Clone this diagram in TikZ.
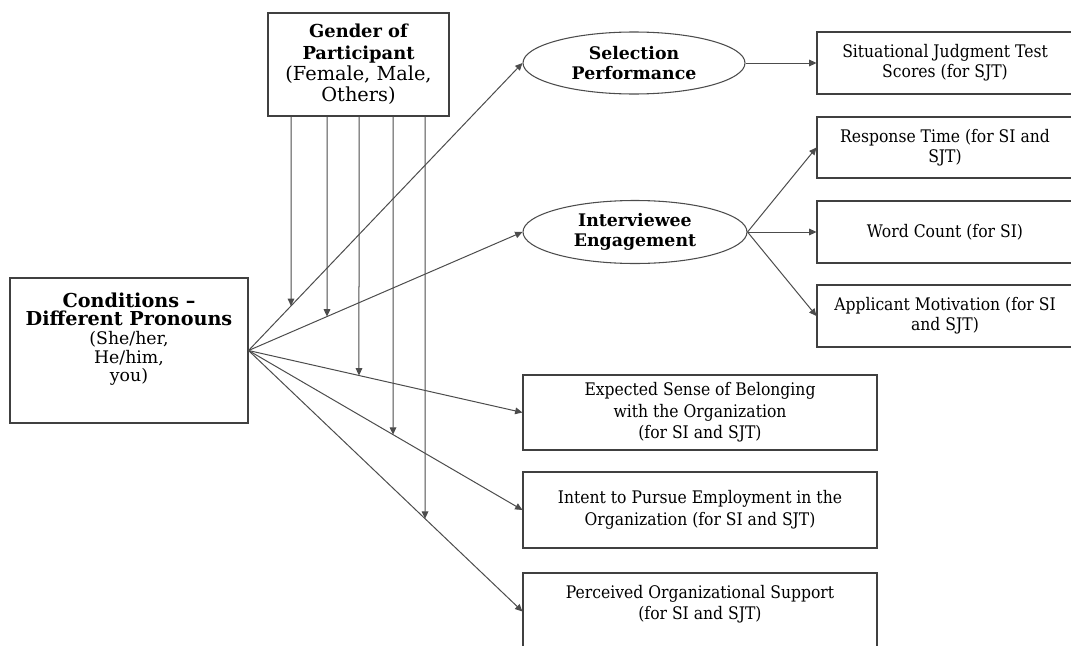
\documentclass[tikz,border=0pt]{standalone}
\usepackage{fontspec}
\setmainfont{DejaVu Serif}[FakeStretch=0.9, BoldFeatures={FakeStretch=1}]
\newfontfamily\widefont{DejaVu Serif}
\usetikzlibrary{arrows.meta,shapes.geometric}
\newdimen\pxu \pxu=0.75pt
\begin{document}
\begin{tikzpicture}[x=0.75pt,y=-0.75pt,
  font=\fontsize{13}{15}\selectfont,
  box/.style={draw=black!75, line width=0.8pt, align=center, inner sep=0pt},
  ell/.style={ellipse, draw=black!70, line width=0.8pt, align=center, inner sep=0pt, font=\fontsize{13}{15}\selectfont\bfseries},
  arr/.style={draw=black!70, line width=0.75pt, -{Triangle[length=5.5pt,width=5pt]}},
  ln/.style={draw=black!70, line width=0.75pt}]
\useasboundingbox (0,0) rectangle (1071,646);
\clip (0,0) rectangle (1071,646);

% left and top boxes
\node[box, minimum width={238*\pxu}, minimum height={145*\pxu}] (cond) at (129,350.5) {};
\node[align=center, inner sep=0pt, font=\widefont\fontsize{13}{14}\selectfont] (condtxt) at (129,339)
  {{\fontsize{14.4}{14}\selectfont\bfseries Conditions –}\\{\fontsize{14.4}{14}\selectfont\bfseries Different Pronouns}\\(She/her,\\He/him,\\you)};
\node[box, minimum width={181*\pxu}, minimum height={103*\pxu}, font=\widefont\fontsize{14.5}{16}\selectfont] (gender) at (358.5,64.5)
  {{\fontsize{13.4}{16}\selectfont\bfseries Gender of}\\{\fontsize{13.4}{16}\selectfont\bfseries Participant}\\(Female, Male,\\Others)};

% mediators
\node[ell, minimum width={222*\pxu}, minimum height={62*\pxu}] (sel) at (634,63) {Selection\\Performance};
\node[ell, minimum width={224*\pxu}, minimum height={63*\pxu}] (eng) at (635,232) {Interviewee\\Engagement};

% right boxes
\node[box, minimum width={256*\pxu}, minimum height={62*\pxu}] (sjt) at (945,63) {Situational Judgment Test\\Scores (for SJT)};
\node[box, minimum width={256*\pxu}, minimum height={61*\pxu}] (resp) at (945,147.5) {Response Time (for SI and\\SJT)};
\node[box, minimum width={256*\pxu}, minimum height={62*\pxu}] (word) at (945,232) {Word Count (for SI)};
\node[box, minimum width={256*\pxu}, minimum height={62*\pxu}] (app) at (945,316) {Applicant Motivation (for SI\\and SJT)};

% bottom boxes
\node[box, minimum width={354*\pxu}, minimum height={75*\pxu}, font=\fontsize{13}{16}\selectfont] (exp) at (700,412.5)
  {Expected Sense of Belonging\\with the Organization\\(for SI and SJT)};
\node[box, minimum width={354*\pxu}, minimum height={76*\pxu}, font=\fontsize{13}{16}\selectfont] (int) at (700,510)
  {Intent to Pursue Employment in the\\Organization (for SI and SJT)};
\node[box, minimum width={354*\pxu}, minimum height={77*\pxu}] (per) at (700,611.5) {};
\node[align=center, inner sep=0pt, font=\fontsize{13}{16}\selectfont] (pertxt) at (700,604)
  {Perceived Organizational Support\\(for SI and SJT)};

% main paths
\draw[arr] (cond.east) -- (sel.west);
\draw[arr] (cond.east) -- (eng.west);
\draw[arr] (cond.east) -- (exp.west);
\draw[arr] (cond.east) -- (int.west);
\draw[arr] (cond.east) -- (per.west);

\draw[arr] (sel.east) -- (sjt.west);
\draw[arr] (eng.east) -- (resp.west);
\draw[arr] (eng.east) -- (word.west);
\draw[arr] (eng.east) -- (app.west);

% moderation arrows from gender
\coordinate (g1) at (gender.south -| 291,0);
\coordinate (g2) at (gender.south -| 327,0);
\coordinate (g3) at (gender.south -| 359,0);
\coordinate (g4) at (gender.south -| 393,0);
\coordinate (g5) at (gender.south -| 425,0);
\coordinate (h1) at (291,640);
\coordinate (h2) at (327,640);
\coordinate (h3) at (359,640);
\coordinate (h4) at (393,640);
\coordinate (h5) at (425,640);
\draw[arr] (g1) -- (intersection of g1--h1 and cond.east--sel.west);
\draw[arr] (g2) -- (intersection of g2--h2 and cond.east--eng.west);
\draw[arr] (g3) -- (intersection of g3--h3 and cond.east--exp.west);
\draw[arr] (g4) -- (intersection of g4--h4 and cond.east--int.west);
\draw[arr] (g5) -- (intersection of g5--h5 and cond.east--per.west);
\end{tikzpicture}
\end{document}
